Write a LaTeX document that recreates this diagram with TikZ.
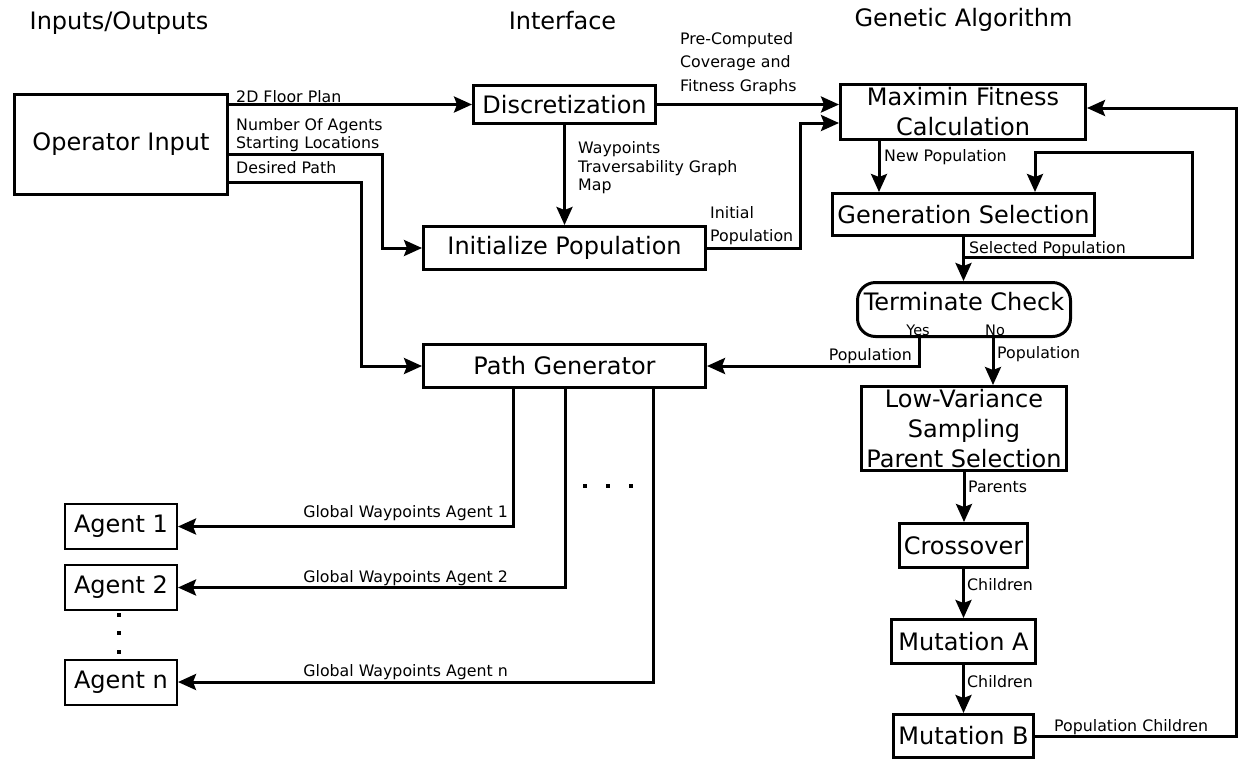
\documentclass[tikz,border=0pt]{standalone}
\usepackage{fontspec}
\setmainfont{DejaVu Sans}
\usetikzlibrary{arrows.meta}
\begin{document}
\begin{tikzpicture}[x=1pt,y=-1pt,
  box/.style={draw, line width=3pt, inner sep=0pt, align=center,
    font=\fontsize{24}{30}\selectfont},
  agentbox/.style={draw, line width=2pt, inner sep=0pt, minimum width=112pt,
    minimum height=45pt, font=\fontsize{24}{30}\selectfont},
  head/.style={font=\fontsize{24}{29}\selectfont, anchor=base, inner sep=0pt},
  lbl/.style={font=\fontsize{15.8}{19}\selectfont, inner sep=0pt},
  yn/.style={font=\fontsize{14.5}{17}\selectfont, inner sep=0pt, anchor=base},
  arr/.style={line width=3pt, -{Stealth[length=18pt,width=16pt,inset=3pt]}},
  dot/.style={fill, minimum size=4pt, inner sep=0pt}]
\useasboundingbox (0,0) rectangle (1238,761);

% column headings
\node[head] (hio) at (119,29) {Inputs/Outputs};
\node[head] (hif) at (562.5,29) {Interface};
\node[head] (hga) at (963.5,26) {Genetic Algorithm};

% blocks
\node[box, minimum width=213pt, minimum height=100pt] (op) at (121,144.5) {Operator Input};
\node[box, minimum width=182pt, minimum height=38pt] (disc) at (564.5,104.5) {Discretization};
\node[box, minimum width=282pt, minimum height=43pt] (init) at (564.5,248) {Initialize Population};
\node[box, minimum width=282pt, minimum height=43pt] (pg) at (564.5,366) {Path Generator};
\node[box, minimum width=245pt, minimum height=55pt] (max) at (963,112) {Maximin Fitness\\Calculation};
\node[box, minimum width=262pt, minimum height=42pt] (gen) at (963.5,214.5) {Generation Selection};
\node[box, rounded corners=18pt, minimum width=213pt, minimum height=54pt] (term) at (964,309.5) {};
\node[head] (termtxt) at (964,310) {Terminate Check};
\node[box, minimum width=205pt, minimum height=84pt] (lv) at (964,428.5) {Low-Variance\\Sampling\\Parent Selection};
\node[box, minimum width=128pt, minimum height=44pt] (cross) at (963.5,545.5) {Crossover};
\node[box, minimum width=144pt, minimum height=44pt] (muta) at (963.5,641.5) {Mutation A};
\node[box, minimum width=140pt, minimum height=43pt] (mutb) at (963.5,736) {Mutation B};
\node[agentbox] (a1) at (121,526.5) {Agent 1};
\node[agentbox] (a2) at (121,587.5) {Agent 2};
\node[agentbox] (an) at (121,682) {Agent n};

% elision marks
\node[dot] (hd1) at (585,486) {};
\node[dot] (hd2) at (608,486) {};
\node[dot] (hd3) at (631,486) {};
\node[dot] (vd1) at (119,615) {};
\node[dot] (vd2) at (119,633) {};
\node[dot] (vd3) at (119,652) {};

% bend points
\coordinate (c1) at (382,154);
\coordinate (c2) at (361,182);
\coordinate (c3) at (800,123);
\coordinate (c4) at (879,0);
\coordinate (c5) at (1192,257);
\coordinate (c6) at (1035,152);
\coordinate (c7) at (1236,108);
\coordinate (yes) at (919,0);
\coordinate (no) at (993,0);
\coordinate (d1) at (513,0);
\coordinate (d2) at (565,0);
\coordinate (d3) at (653,0);

% connectors
\draw[arr] (op.east |- disc.west) -- (disc.west);
\draw[arr] (op.east |- c1) -- (c1) |- (init.west);
\draw[arr] (op.east |- c2) -- (c2) |- (pg.west);
\draw[arr] (disc.south) -- (init.north);
\draw[arr] (disc.east) -- (max.west |- disc.east);
\draw[arr] (init.east) -| (c3) -- (max.west |- c3);
\draw[arr] (c4 |- max.south) -- (c4 |- gen.north);
\draw[arr] (gen.south) -- (gen.south |- term.north);
\draw[arr] (gen.south |- c5) -| (c5 |- c6) -| (c6 |- gen.north);
\draw[arr] (yes |- term.south) |- (pg.east);
\draw[arr] (no |- term.south) -- (no |- lv.north);
\draw[arr] (lv.south) -- (lv.south |- cross.north);
\draw[arr] (cross.south) -- (muta.north);
\draw[arr] (muta.south) -- (mutb.north);
\draw[arr] (mutb.east) -| (c7) -- (max.east |- c7);
\draw[arr] (d1 |- pg.south) |- (a1.east);
\draw[arr] (d2 |- pg.south) |- (a2.east);
\draw[arr] (d3 |- pg.south) |- (an.east);

% connector labels
\node[lbl, anchor=base west] (l2d) at (236,102) {2D Floor Plan};
\node[lbl, anchor=base west] (lnum) at (236,130) {Number Of Agents};
\node[lbl, anchor=base west] (lstart) at (236,148) {Starting Locations};
\node[lbl, anchor=base west] (ldes) at (236,173) {Desired Path};
\node[lbl, anchor=base west] (lwp) at (578,153) {Waypoints};
\node[lbl, anchor=base west] (ltg) at (578,172) {Traversability Graph};
\node[lbl, anchor=base west] (lmap) at (578,190) {Map};
\node[lbl, anchor=base west] (lpre) at (680,44) {Pre-Computed};
\node[lbl, anchor=base west] (lcov) at (680,67) {Coverage and};
\node[lbl, anchor=base west] (lfit) at (680,91) {Fitness Graphs};
\node[lbl, anchor=base west] (lini) at (710,218) {Initial};
\node[lbl, anchor=base west] (linp) at (710,241) {Population};
\node[lbl, anchor=base west] (lnew) at (884,161) {New Population};
\node[lbl, anchor=base west] (lsel) at (969,253) {Selected Population};
\node[yn] (lyes) at (918,335) {Yes};
\node[yn] (lno) at (995,335) {No};
\node[lbl, anchor=base east] (lpy) at (912,360) {Population};
\node[lbl, anchor=base west] (lpn) at (997,358) {Population};
\node[lbl, anchor=base west] (lpar) at (968,492) {Parents};
\node[lbl, anchor=base west] (lch1) at (967,590) {Children};
\node[lbl, anchor=base west] (lch2) at (967,687) {Children};
\node[lbl, anchor=base west] (lpc) at (1054,731) {Population Children};
\node[lbl, anchor=base east] (lg1) at (508,517) {Global Waypoints Agent 1};
\node[lbl, anchor=base east] (lg2) at (508,582) {Global Waypoints Agent 2};
\node[lbl, anchor=base east] (lgn) at (508,676) {Global Waypoints Agent n};
\end{tikzpicture}
\end{document}
